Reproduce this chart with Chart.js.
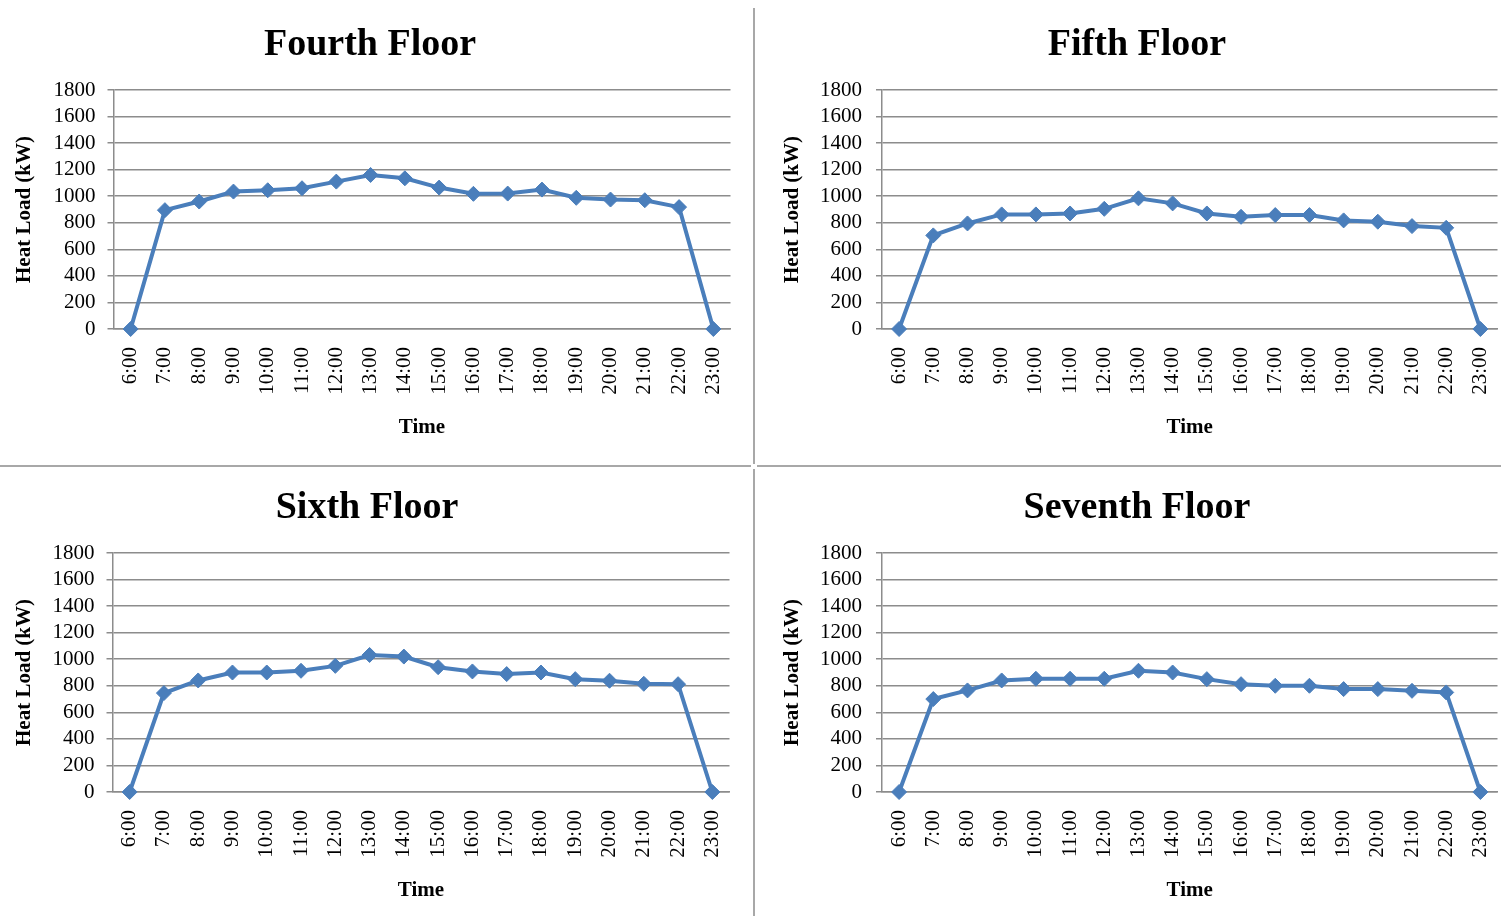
<!DOCTYPE html>
<html>
<head>
<meta charset="utf-8">
<script src="https://cdn.jsdelivr.net/npm/chart.js@4/dist/chart.umd.min.js"></script>
<style>
  html, body { margin: 0; padding: 0; background: #fff; overflow: hidden; }
  body { width: 1501px; height: 916px; position: relative; }
  canvas { position: absolute; }
  .rule { position: absolute; background: #a8a8a8; }
</style>
</head>
<body>
<div class="rule" style="left:753px; top:8px; width:2px; height:456px;"></div>
<div class="rule" style="left:753px; top:469px; width:2px; height:447px;"></div>
<div class="rule" style="left:0px; top:465px; width:751px; height:2px;"></div>
<div class="rule" style="left:757px; top:465px; width:744px; height:2px;"></div>

<canvas id="c4" width="739" height="464" style="left:0px; top:0px;"></canvas>
<canvas id="c5" width="746" height="464" style="left:760px; top:0px;"></canvas>
<canvas id="c6" width="742" height="464" style="left:-4px; top:463px;"></canvas>
<canvas id="c7" width="746" height="464" style="left:760px; top:463px;"></canvas>

<script>
// Hourly heat load per floor (kW)
const hours = ['6:00', '7:00', '8:00', '9:00', '10:00', '11:00', '12:00', '13:00', '14:00',
               '15:00', '16:00', '17:00', '18:00', '19:00', '20:00', '21:00', '22:00', '23:00'];
const fourthFloor  = [0, 895, 960, 1035, 1045, 1060, 1110, 1160, 1135, 1065, 1018, 1020, 1050, 988, 975, 970, 918, 0];
const fifthFloor   = [0, 705, 795, 863, 863, 870, 905, 984, 946, 870, 845, 858, 858, 818, 808, 775, 762, 0];
const sixthFloor   = [0, 745, 840, 900, 900, 913, 950, 1032, 1020, 940, 908, 888, 900, 850, 838, 815, 812, 0];
const seventhFloor = [0, 700, 765, 840, 853, 853, 853, 913, 900, 850, 812, 800, 800, 775, 775, 762, 750, 0];
const yMin = 0, yMax = 1800, yStep = 200;

const SERIF = "'Liberation Serif', 'Times New Roman', 'DejaVu Serif', serif";
const LINE_BLUE = '#4A7EBB';
const GRID_GRAY = '#8c8c8c';

Chart.defaults.devicePixelRatio = 1;

function floorChart(id, title, values, padLeft, yAxisWidth, tickPad, yTitlePad) {
  return new Chart(document.getElementById(id), {
    type: 'line',
    data: {
      labels: hours,
      datasets: [{
        data: values,
        borderColor: LINE_BLUE,
        backgroundColor: LINE_BLUE,
        borderWidth: 4,
        pointStyle: 'rectRot',
        pointRadius: 7.5,
        pointBorderWidth: 1,
        pointBackgroundColor: LINE_BLUE,
        pointBorderColor: LINE_BLUE,
        tension: 0,
        clip: false
      }]
    },
    options: {
      responsive: false,
      animation: false,
      layout: { padding: { left: padLeft, right: 0, top: 0, bottom: 0 } },
      plugins: {
        legend: { display: false },
        tooltip: { enabled: false },
        title: {
          display: true,
          text: title,
          color: '#000',
          font: { family: SERIF, size: 38, weight: 'bold', lineHeight: 1.2 },
          padding: { top: 22, bottom: 22.4 }
        }
      },
      scales: {
        x: {
          offset: true,
          grid: { display: false, drawTicks: false },
          border: { display: true, color: GRID_GRAY, width: 1.5 },
          ticks: {
            color: '#000',
            font: { family: SERIF, size: 21 },
            minRotation: 90,
            maxRotation: 90,
            autoSkip: false,
            padding: 18
          },
          title: {
            display: true,
            text: 'Time',
            color: '#000',
            font: { family: SERIF, size: 21, weight: 'bold', lineHeight: 1.2 },
            padding: { top: 0, bottom: 24 }
          },
          afterFit(scale) {
            scale.height = 135;
            scale.paddingLeft = 0;
            scale.paddingRight = 0;
          }
        },
        y: {
          min: yMin,
          max: yMax,
          grid: { color: GRID_GRAY, lineWidth: 1.5, drawTicks: true, tickLength: 6 },
          border: { display: true, color: GRID_GRAY, width: 1.5 },
          ticks: {
            stepSize: yStep,
            autoSkip: false,
            color: '#000',
            font: { family: SERIF, size: 21 },
            padding: tickPad,
            callback: (v) => String(v)
          },
          title: {
            display: true,
            text: 'Heat Load (kW)',
            color: '#000',
            font: { family: SERIF, size: 21, weight: 'bold', lineHeight: 1.2 },
            padding: { top: yTitlePad, bottom: 0 }
          },
          afterFit(scale) { scale.width = yAxisWidth; }
        }
      }
    }
  });
}

floorChart('c4', 'Fourth Floor',  fourthFloor,  1, 112.5, 12, 11.4);
floorChart('c5', 'Fifth Floor',   fifthFloor,   8, 114,   14, 12.4);
floorChart('c6', 'Sixth Floor',   sixthFloor,   0, 116.5, 12, 16.4);
floorChart('c7', 'Seventh Floor', seventhFloor, 8, 114,   14, 12.4);
</script>
</body>
</html>
